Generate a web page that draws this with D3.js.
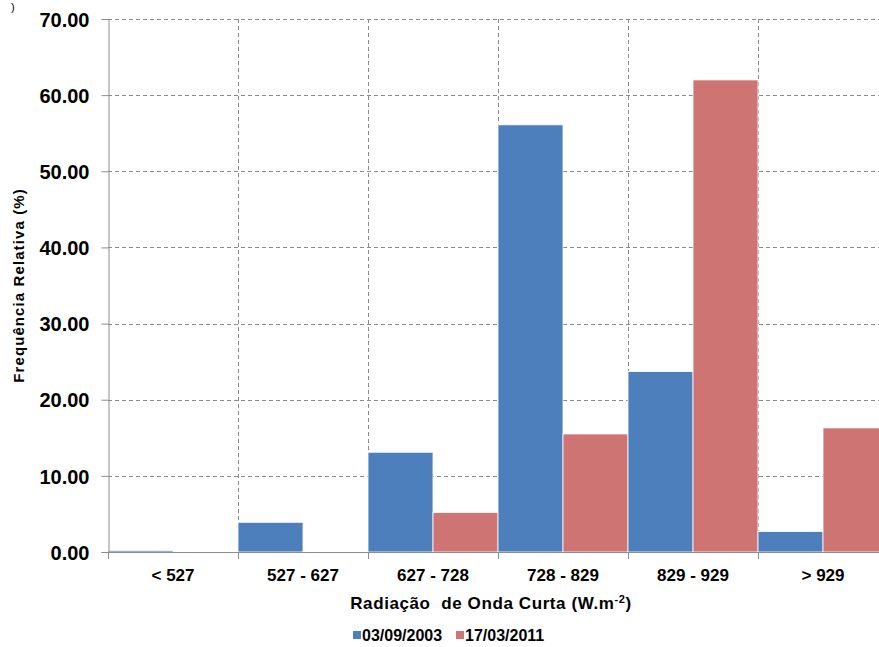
<!DOCTYPE html>
<html>
<head>
<meta charset="utf-8">
<script src="https://cdn.jsdelivr.net/npm/d3@7"></script>
<style>
  html, body { margin: 0; padding: 0; background: #fff; }
  svg { display: block; }
  text { font-family: "Liberation Sans", Arial, sans-serif; font-weight: bold; fill: #000; }
</style>
</head>
<body>
<svg id="chart" width="879" height="647"></svg>
<script>
// Faixas de radiação de onda curta (W.m-2)
const categories = ["< 527", "527 - 627", "627 - 728", "728 - 829", "829 - 929", "> 929"];
const seriesNames = ["03/09/2003", "17/03/2011"];
const seriesColors = ["#4C7FBC", "#CE7573"];
// Frequência relativa (%) por série
const values2003 = [0.2, 3.9, 13.1, 56.1, 23.7, 2.7];
const values2011 = [0.0, 0.1, 5.2, 15.5, 62.0, 16.3];
const yTicks = [0, 10, 20, 30, 40, 50, 60, 70];

const svg = d3.select("#chart");
const plotLeft = 108, plotRight = 888, plotTop = 19, plotBottom = 552;

const x = d3.scaleBand().domain(categories).range([plotLeft, plotRight]).padding(0);
const xs = d3.scaleBand().domain(seriesNames).range([0, x.bandwidth()]).padding(0);
const y = d3.scaleLinear().domain([0, 70]).range([plotBottom, plotTop]);

const grid = svg.append("g").attr("stroke", "#8a8a8a").attr("stroke-dasharray", "4,3").attr("stroke-width", 1);
// horizontal gridlines
grid.selectAll("line.h").data(yTicks.filter(d => d > 0)).join("line").attr("class", "h")
  .attr("x1", plotLeft).attr("x2", 879)
  .attr("y1", d => Math.round(y(d)) + 0.5).attr("y2", d => Math.round(y(d)) + 0.5);
// vertical gridlines at category boundaries
grid.selectAll("line.v").data(categories.slice(1)).join("line").attr("class", "v")
  .attr("x1", d => Math.round(x(d)) + 0.5).attr("x2", d => Math.round(x(d)) + 0.5)
  .attr("y1", plotTop).attr("y2", plotBottom);

// bars
const rows = categories.map((c, i) => ({ c, v: [values2003[i], values2011[i]] }));
const groups = svg.append("g").selectAll("g").data(rows).join("g")
  .attr("transform", d => `translate(${x(d.c)},0)`);
groups.selectAll("rect").data(d => d.v.map((v, j) => ({ v, s: seriesNames[j], j })))
  .join("rect")
  .attr("x", d => xs(d.s))
  .attr("width", xs.bandwidth())
  .attr("y", d => y(d.v))
  .attr("height", d => y(0) - y(d.v))
  .attr("fill", d => seriesColors[d.j])
  .attr("stroke", "#fff").attr("stroke-width", 0.8);

// y axis
const yAxis = svg.append("g").attr("transform", `translate(${plotLeft + 0.5},0)`)
  .call(d3.axisLeft(y).tickValues(yTicks).tickFormat(d3.format(".2f")).tickSize(7).tickPadding(12));
yAxis.select(".domain").attr("stroke", "#8c8c8c");
yAxis.selectAll(".tick line").attr("stroke", "#8c8c8c");
yAxis.selectAll(".tick text").style("font-size", "20px").attr("dy", "0.36em");

// x axis
const xAxis = svg.append("g").attr("transform", `translate(0,${plotBottom + 0.5})`)
  .call(d3.axisBottom(x).tickSize(0).tickPadding(16));
xAxis.select(".domain").attr("stroke", "#8c8c8c").attr("d", `M${plotLeft},0H879`);
xAxis.selectAll(".tick text").style("font-size", "17px").attr("dy", "0.71em");
// boundary tick marks
svg.append("g").selectAll("line").data(categories.map(c => x(c)))
  .join("line")
  .attr("x1", d => Math.round(d) + 0.5).attr("x2", d => Math.round(d) + 0.5)
  .attr("y1", plotBottom).attr("y2", plotBottom + 7)
  .attr("stroke", "#8c8c8c");

// axis titles
const xt = svg.append("text").attr("x", 491).attr("y", 609).attr("text-anchor", "middle")
  .style("font-size", "17px").style("letter-spacing", "0.6px");
xt.append("tspan").text("Radiação\u00a0 de Onda Curta (W.m");
xt.append("tspan").attr("dy", -6).style("font-size", "11px").text("-2");
xt.append("tspan").attr("dy", 6).text(")");

svg.append("text")
  .attr("transform", `translate(24,${(plotTop + plotBottom) / 2}) rotate(-90)`)
  .attr("text-anchor", "middle").style("font-size", "15px").style("letter-spacing", "1.1px")
  .text("Frequência Relativa (%)");

// legend
const legend = svg.append("g").attr("transform", "translate(353,637)");
const items = legend.selectAll("g").data(seriesNames).join("g")
  .attr("transform", (d, i) => `translate(${i * 103},0)`);
items.append("rect").attr("x", 0).attr("y", -6).attr("width", 8).attr("height", 8)
  .attr("fill", (d, i) => seriesColors[i]);
items.append("text").attr("x", 9).attr("y", 4).style("font-size", "16px").text(d => d);

// panel letter fragment, top-left corner
svg.append("text").attr("x", 11).attr("y", 11).style("font-size", "11px").style("font-weight", "normal").text(")");
</script>
</body>
</html>
